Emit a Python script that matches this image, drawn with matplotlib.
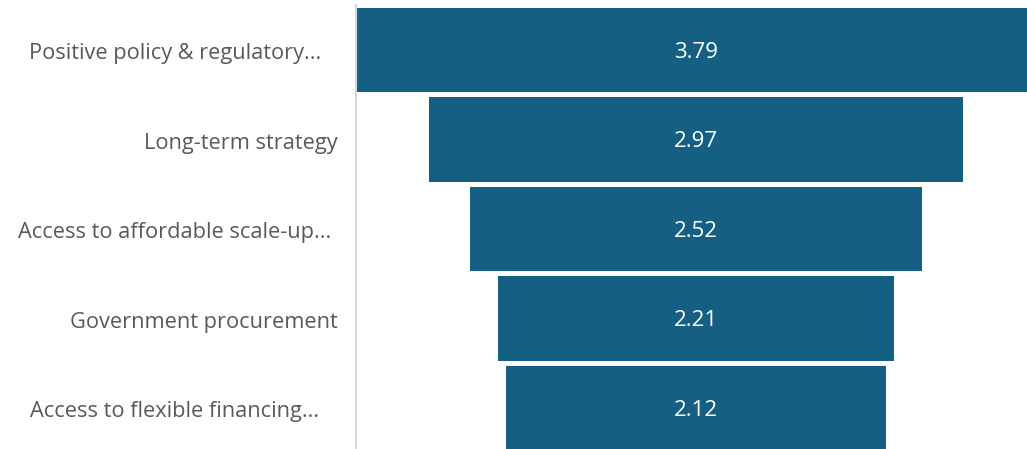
import matplotlib
matplotlib.use("Agg")
import matplotlib.pyplot as plt
from matplotlib.transforms import blended_transform_factory

# 数据
categories = [
    "Positive policy & regulatory...",
    "Long-term strategy",
    "Access to affordable scale-up...",
    "Government procurement",
    "Access to flexible financing...",
]
values = [3.79, 2.97, 2.52, 2.21, 2.12]

BAR_COLOR = "#156082"
TEXT_COLOR = "#595959"

plt.rcParams["font.family"] = ["Open Sans", "DejaVu Sans"]

W, H = 1027, 449
fig = plt.figure(figsize=(W / 100, H / 100), dpi=100)
ax = fig.add_axes([356 / W, 0, 671 / W, 444 / H])

y = list(range(len(values)))
ax.barh(y, values, left=[-v / 2 for v in values], height=0.94,
        color=BAR_COLOR, edgecolor="none")

# 数值标签（基线对齐，让大写字母居中于条形）
for yi, v in zip(y, values):
    ax.text(0, yi + 0.088, f"{v:.2f}", ha="center", va="baseline",
            color="white", fontsize=16)

# 类别标签：截断的标签居中在固定框内，完整的右对齐
trans = blended_transform_factory(fig.transFigure, ax.transData)
for yi, lab in zip(y, categories):
    if lab.endswith("..."):
        xpos, ha = 175 / W, "center"
    else:
        xpos, ha = 338 / W, "right"
    ax.text(xpos, yi + 0.104, lab, ha=ha, va="baseline", transform=trans,
            fontsize=15.7, color=TEXT_COLOR, clip_on=False)

ax.set_xlim(-1.894, 1.844)
ax.set_ylim(4.458, -0.503)
ax.set_xticks([])
ax.set_yticks([])

for s in ["top", "right", "bottom"]:
    ax.spines[s].set_visible(False)
ax.spines["left"].set_color("#D9D9D9")
ax.spines["left"].set_linewidth(1.5)

fig.savefig("out.png", dpi=100)
